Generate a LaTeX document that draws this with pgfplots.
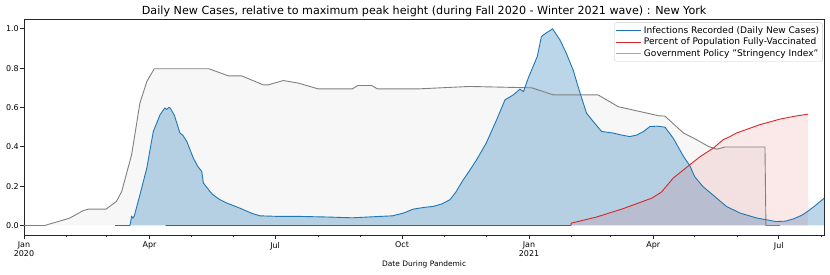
\documentclass[border=0pt]{standalone}
\usepackage{pgfplots}
\pgfplotsset{compat=1.18}
\usepackage{fontspec}
\setmainfont{DejaVu Sans}
\definecolor{cblue}{HTML}{1F77B4}
\definecolor{cred}{HTML}{D62728}
\definecolor{cgray}{HTML}{808080}
\begin{document}
\begin{tikzpicture}
\path[use as bounding box] (-24bp,-39.7bp) rectangle (806bp,235.3bp);
\begin{axis}[
  at={(0,0)}, anchor=south west,
  scale only axis, width=800.3bp, height=216.3bp,
  xmin=0, xmax=580, ymin=-0.05, ymax=1.05,
  axis line style={black!85, line width=0.8bp},
  tick pos=left,
  tick align=outside, tick style={black!85, line width=0.8bp},
  major tick length=3.5bp, minor tick length=2bp,
  xtick={0,91,182,274,366,456,547},
  xticklabels={{Jan\\2020},Apr,Jul,Oct,{Jan\\2021},Apr,Jul},
  minor xtick={31,60,121,152,213,244,305,335,397,425,486,517,578},
  xticklabel style={align=center, font=\fontsize{8}{8.5}\selectfont, inner sep=1.5bp, yshift=-1.5bp},
  ytick={0,0.2,0.4,0.6,0.8,1.0},
  yticklabel style={font=\fontsize{8}{9}\selectfont, inner sep=1.5bp, /pgf/number format/fixed, /pgf/number format/fixed zerofill, /pgf/number format/precision=1},
  /pgf/number format/assume math mode=true,
  title={Daily New Cases, relative to maximum peak height (during Fall 2020 - Winter 2021 wave) : New York},
  every axis title/.style={at={(0.5,1)}, anchor=base, yshift=4.5bp, inner sep=0pt, font=\fontsize{11.2}{12}\selectfont},
  xlabel={Date During Pandemic},
  xlabel style={font=\fontsize{7.5}{9}\selectfont, yshift=1bp},
  legend style={at={(1,1)}, anchor=north east, xshift=-1.5bp, yshift=-3.5bp, draw=black!20, rounded corners=2bp, fill=white, fill opacity=0.8, text opacity=1, font=\fontsize{9.1}{10}\selectfont, inner sep=1.5bp, row sep=-0.8bp, cells={anchor=west}},
  legend image code/.code={\path (0bp,0bp) -- (25bp,0bp); \draw[#1] (0bp,0bp) -- (20bp,0bp);},
]
\addlegendimage{cblue, line width=0.9bp}
\addlegendentry{Infections Recorded (Daily New Cases)}
\addlegendimage{cred, line width=0.9bp}
\addlegendentry{Percent of Population Fully-Vaccinated}
\addlegendimage{cgray!70, line width=1.2bp}
\addlegendentry{Government Policy "Stringency Index"}

% stringency fill
\addplot[forget plot, draw=none, fill=black!3] coordinates {
(0,0) (15,0) (33,0.037) (43,0.076) (46.6,0.083) (59.4,0.083) (67,0.122) (70.8,0.173) (78,0.36) (84,0.622) (89,0.732) (94.4,0.797) (134,0.797) (148,0.761) (157.7,0.761) (173.4,0.715) (177,0.715) (188,0.737) (198.8,0.724) (213,0.695) (238,0.695) (242,0.712) (252,0.712) (256,0.695) (287,0.695) (323,0.707) (368,0.700) (383.6,0.664) (416,0.664) (430.7,0.604) (446,0.58) (460,0.558) (464.5,0.556) (478,0.47) (487.5,0.436) (496,0.402) (502,0.388) (508,0.399) (537,0.399) (537.7,0.0) (548,0.0)
} \closedcycle;

% infections fill
\addplot[forget plot, draw=none, fill=cblue, fill opacity=0.3] coordinates {
(66,0) (76.8,0) (78,0.046) (79,0.038) (80,0.05) (84,0.156) (89,0.292) (93.7,0.478) (98.6,0.563) (102,0.597) (103.5,0.59) (105,0.60) (106,0.597) (109,0.56) (113,0.47) (115,0.46) (118,0.427) (122.7,0.343) (126,0.30) (128.8,0.275) (130,0.216) (134.8,0.173) (137,0.156) (142,0.131) (147,0.114) (156.5,0.088) (165,0.062) (171,0.049) (185,0.046) (200,0.046) (220,0.043) (238,0.039) (255,0.045) (267,0.049) (275,0.063) (282,0.083) (290,0.092) (296.6,0.097) (303,0.11) (308.7,0.131) (313,0.17) (318.3,0.232) (323,0.28) (328,0.334) (335,0.419) (342.5,0.537) (348.6,0.639) (354.6,0.664) (359.4,0.693) (362,0.681) (365.4,0.749) (370,0.826) (372,0.86) (375,0.961) (378.8,0.981) (381,0.99) (383,1.0) (384.5,0.985) (388.4,0.944) (393,0.876) (398,0.79) (403,0.673) (407.7,0.571) (412.5,0.529) (418.6,0.478) (427,0.47) (433,0.46) (439,0.452) (444,0.46) (449,0.478) (453.6,0.503) (459,0.505) (464.5,0.50) (470.5,0.444) (478,0.351) (482.6,0.303) (486,0.249) (492,0.198) (500.7,0.147) (509,0.097) (519,0.063) (531,0.038) (545,0.020) (552,0.022) (557.5,0.033) (564,0.053) (569.6,0.080) (575,0.11) (580,0.139)
} \closedcycle;

% vaccinated fill
\addplot[forget plot, draw=none, fill=cred, fill opacity=0.1] coordinates {
(102.7,0) (396.4,0) (396.6,0.012) (415,0.043) (434,0.085) (455,0.139) (462,0.17) (470.5,0.241) (482.6,0.309) (490,0.35) (499.5,0.393) (506.7,0.436) (511.6,0.452) (516.4,0.47) (533,0.512) (548,0.541) (558,0.555) (568.3,0.566)
} \closedcycle;

% stringency line
\addplot[forget plot, cgray, line width=0.9bp] coordinates {
(0,0) (15,0) (33,0.037) (43,0.076) (46.6,0.083) (59.4,0.083) (67,0.122) (70.8,0.173) (78,0.36) (84,0.622) (89,0.732) (94.4,0.797) (134,0.797) (148,0.761) (157.7,0.761) (173.4,0.715) (177,0.715) (188,0.737) (198.8,0.724) (213,0.695) (238,0.695) (242,0.712) (252,0.712) (256,0.695) (287,0.695) (323,0.707) (368,0.700) (383.6,0.664) (416,0.664) (430.7,0.604) (446,0.58) (460,0.558) (464.5,0.556) (478,0.47) (487.5,0.436) (496,0.402) (502,0.388) (508,0.399) (537,0.399) (537.7,0.0) (548,0.0)
};

% infections line
\addplot[forget plot, cblue, line width=0.9bp] coordinates {
(66,0) (76.8,0) (78,0.046) (79,0.038) (80,0.05) (84,0.156) (89,0.292) (93.7,0.478) (98.6,0.563) (102,0.597) (103.5,0.59) (105,0.60) (106,0.597) (109,0.56) (113,0.47) (115,0.46) (118,0.427) (122.7,0.343) (126,0.30) (128.8,0.275) (130,0.216) (134.8,0.173) (137,0.156) (142,0.131) (147,0.114) (156.5,0.088) (165,0.062) (171,0.049) (185,0.046) (200,0.046) (220,0.043) (238,0.039) (255,0.045) (267,0.049) (275,0.063) (282,0.083) (290,0.092) (296.6,0.097) (303,0.11) (308.7,0.131) (313,0.17) (318.3,0.232) (323,0.28) (328,0.334) (335,0.419) (342.5,0.537) (348.6,0.639) (354.6,0.664) (359.4,0.693) (362,0.681) (365.4,0.749) (370,0.826) (372,0.86) (375,0.961) (378.8,0.981) (381,0.99) (383,1.0) (384.5,0.985) (388.4,0.944) (393,0.876) (398,0.79) (403,0.673) (407.7,0.571) (412.5,0.529) (418.6,0.478) (427,0.47) (433,0.46) (439,0.452) (444,0.46) (449,0.478) (453.6,0.503) (459,0.505) (464.5,0.50) (470.5,0.444) (478,0.351) (482.6,0.303) (486,0.249) (492,0.198) (500.7,0.147) (509,0.097) (519,0.063) (531,0.038) (545,0.020) (552,0.022) (557.5,0.033) (564,0.053) (569.6,0.080) (575,0.11) (580,0.139)
};

% vaccinated line
\addplot[forget plot, cred, line width=0.9bp] coordinates {
(102.7,0) (396.4,0) (396.6,0.012) (415,0.043) (434,0.085) (455,0.139) (462,0.17) (470.5,0.241) (482.6,0.309) (490,0.35) (499.5,0.393) (506.7,0.436) (511.6,0.452) (516.4,0.47) (533,0.512) (548,0.541) (558,0.555) (568.3,0.566)
};
\end{axis}
\end{tikzpicture}
\end{document}
